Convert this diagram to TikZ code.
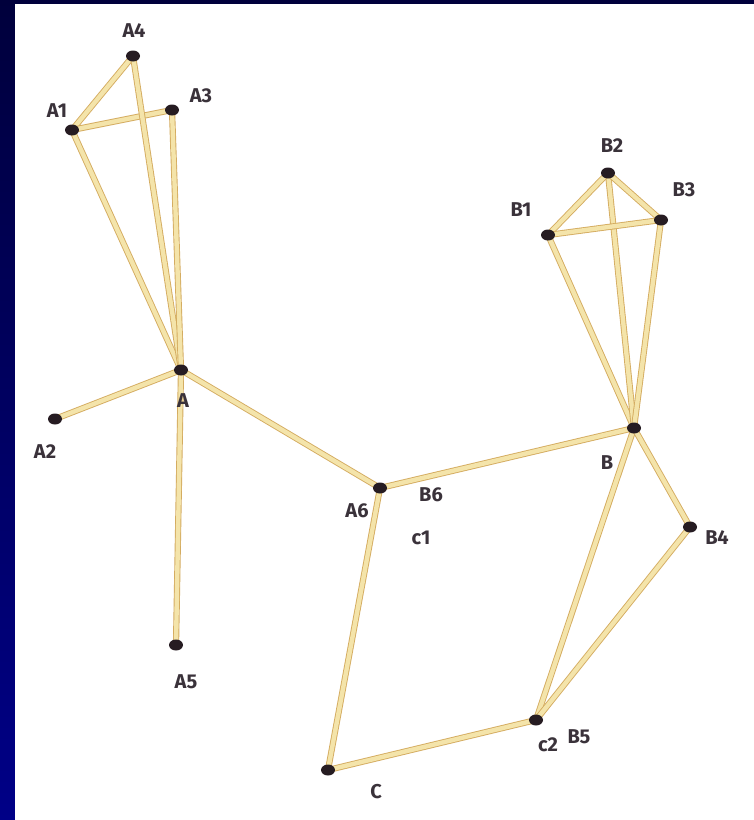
\documentclass[tikz,border=0pt]{standalone}
\usepackage{fontspec}
\setmainfont{Fira Sans}
\usetikzlibrary{shapes.geometric}
\definecolor{navytop}{RGB}{0,0,60}
\definecolor{navybot}{RGB}{0,0,135}
\definecolor{stick}{RGB}{244,228,170}
\definecolor{stickedge}{RGB}{212,172,96}
\definecolor{headc}{RGB}{38,28,34}
\definecolor{ink}{RGB}{58,50,58}
\begin{document}
\begin{tikzpicture}[x=1pt,y=-1pt,
  stickline/.style={draw=stickedge,line width=0.9pt,double=stick,double distance=4.4pt,line cap=butt},
  head/.style={ellipse,fill=headc,minimum width=14pt,minimum height=11pt,inner sep=0pt},
  lbl/.style={text=ink,font=\fontsize{20}{20}\selectfont\bfseries,inner sep=0pt}]
\useasboundingbox (0,0) rectangle (754,820);
\shade[top color=navytop,bottom color=navybot] (0,0) rectangle (754,820);
\fill[white] (15,4) rectangle (754,820);
% joint positions
\coordinate (A4) at (133,56);
\coordinate (A1) at (72,130);
\coordinate (A3) at (172,110);
\coordinate (A) at (181,370);
\coordinate (A2) at (55,419);
\coordinate (A5) at (176,645);
\coordinate (A6) at (380,488);
\coordinate (B1) at (548,235);
\coordinate (B2) at (608,173);
\coordinate (B3) at (661,220);
\coordinate (B) at (634,428);
\coordinate (B4) at (690,527);
\coordinate (C2) at (536,720);
\coordinate (C) at (328,770);
% matchsticks
\foreach \u/\v in {A1/A4,A1/A3,A1/A,A4/A,A3/A,A/A2,A/A5,A/A6,A6/B,A6/C,C/C2,C2/B,C2/B4,B/B4,B/B1,B/B2,B/B3,B1/B2,B2/B3,B1/B3}
  \draw[stickline] (\u) -- (\v);
% heads
\foreach \n in {A4,A1,A3,A,A2,A5,A6,B1,B2,B3,B,B4,C2,C}
  \node[head] (h\n) at (\n) {};
% labels
\node[lbl] (lA4) at (134,31) {A4};
\node[lbl] (lA1) at (57,111) {A1};
\node[lbl] (lA3) at (201,96) {A3};
\node[lbl] (lA) at (183,401) {A};
\node[lbl] (lA2) at (45,452) {A2};
\node[lbl] (lA5) at (186,682) {A5};
\node[lbl] (lA6) at (357,511) {A6};
\node[lbl] (lB6) at (431,495) {B6};
\node[lbl] (lC1) at (421,538) {c1};
\node[lbl] (lB1) at (521,210) {B1};
\node[lbl] (lB2) at (612,146) {B2};
\node[lbl] (lB3) at (684,190) {B3};
\node[lbl] (lB) at (607,463) {B};
\node[lbl] (lB4) at (717,538) {B4};
\node[lbl] (lC2) at (548,745) {c2};
\node[lbl] (lB5) at (579,737) {B5};
\node[lbl] (lC) at (376,792) {C};
\end{tikzpicture}
\end{document}
